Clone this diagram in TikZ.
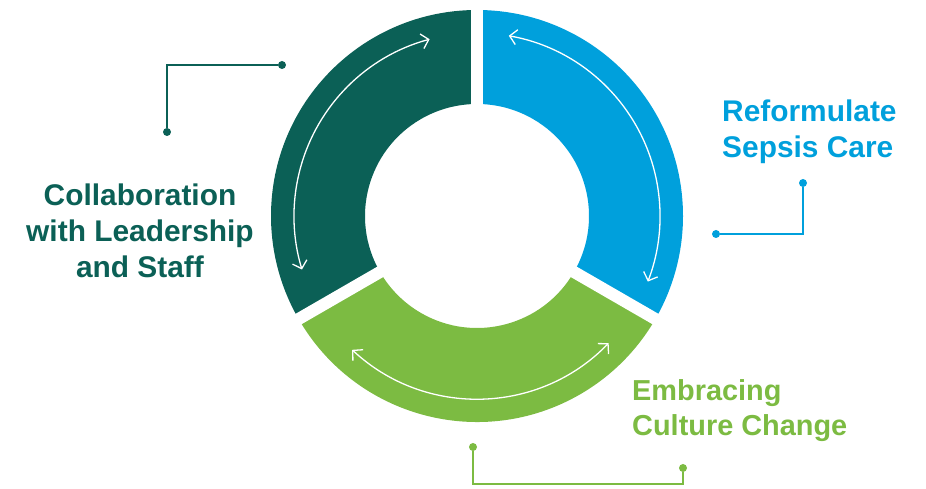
\documentclass[tikz,border=0pt]{standalone}
\usepackage{fontspec}
\setmainfont{Liberation Sans}
\usetikzlibrary{arrows.meta}
\definecolor{pine}{RGB}{11,96,86}
\definecolor{sky}{RGB}{0,160,220}
\definecolor{leaf}{RGB}{124,187,66}

\begin{document}
\begin{tikzpicture}[x=1bp,y=1bp,
    dot/.style={circle,fill,inner sep=0pt,minimum size=8bp},
    leader/.style={line width=2bp},
    loop arrow/.style={white,line width=1.3bp,
      {Straight Barb[length=7bp,width=15bp]}-{Straight Barb[length=7bp,width=15bp]}},
    gap/.style={white,line width=12bp},
    caption/.style={font=\bfseries\fontsize{30}{36.5}\selectfont,inner sep=0pt}]
      \useasboundingbox (0,0) rectangle (926,489);
      \coordinate (ring) at (477,273);

      \fill[pine] ([shift={(90:206)}]ring) arc[start angle=90,end angle=210,radius=206]
        -- ([shift={(210:112)}]ring) arc[start angle=210,end angle=90,radius=112] -- cycle;
      \fill[sky] ([shift={(90:206)}]ring) arc[start angle=90,end angle=-30,radius=206]
        -- ([shift={(-30:112)}]ring) arc[start angle=-30,end angle=90,radius=112] -- cycle;
      \fill[leaf] ([shift={(210:206)}]ring) arc[start angle=210,end angle=330,radius=206]
        -- ([shift={(330:112)}]ring) arc[start angle=330,end angle=210,radius=112] -- cycle;

      \draw[gap] ([shift={(90:100)}]ring) -- ([shift={(90:215)}]ring);
      \draw[gap] ([shift={(210:100)}]ring) -- ([shift={(210:215)}]ring);
      \draw[gap] ([shift={(330:100)}]ring) -- ([shift={(330:215)}]ring);

      \draw[loop arrow] ([shift={(105:183)}]ring) arc[start angle=105,end angle=197,radius=183];
      \draw[loop arrow] ([shift={(80:183)}]ring) arc[start angle=80,end angle=-21,radius=183];
      \draw[loop arrow] ([shift={(227:183)}]ring) arc[start angle=227,end angle=316,radius=183];

      \node[caption,pine,align=center,anchor=base] (collab) at (140,211)
        {Collaboration\\with Leadership\\and Staff};
      \node[caption,sky,align=left,anchor=base west] (sepsis) at (722,331)
        {Reformulate\\Sepsis Care};
      \node[caption,leaf,align=left,anchor=base west,
        font=\bfseries\fontsize{29}{35.5}\selectfont] (culture) at (632,53)
        {Embracing\\Culture Change};

      \node[dot,pine] (collabA) at (282,424) {};
      \node[dot,pine] (collabB) at (167,357) {};
      \draw[leader,pine] (collabA) -| (collabB);

      \node[dot,sky] (sepsisA) at (803,306) {};
      \node[dot,sky] (sepsisB) at (716,255) {};
      \draw[leader,sky] (sepsisA) |- (sepsisB);

      \node[dot,leaf] (cultureA) at (473,42) {};
      \node[dot,leaf] (cultureB) at (683,21) {};
      \coordinate (cultureC) at (683,5);
      \draw[leader,leaf] (cultureA) |- (cultureC) -- (cultureB);
    \end{tikzpicture}
\end{document}
